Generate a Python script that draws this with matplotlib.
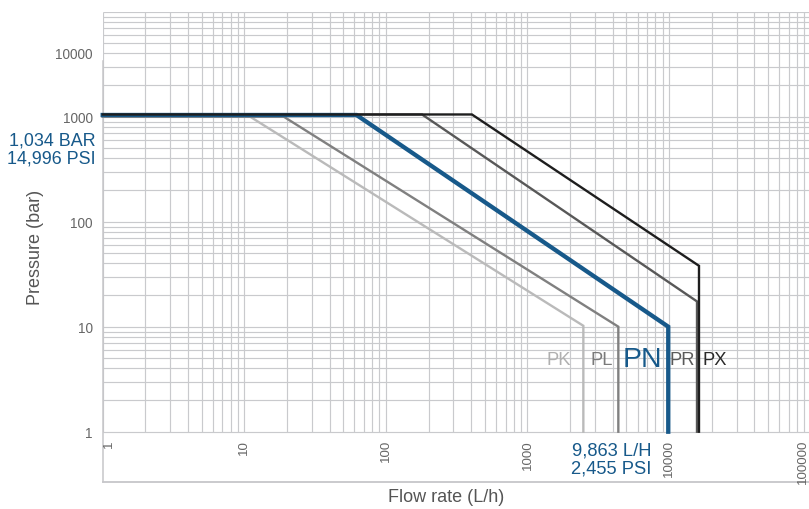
import numpy as np
import matplotlib
matplotlib.use("Agg")
import matplotlib.pyplot as plt

# ---------------- data ----------------
series_names = ["PK", "PL", "PR", "PN", "PX"]
series_flow = {
    "PK": [1, 11, 2480, 2480],
    "PL": [1, 19, 4380, 4380],
    "PR": [1, 180, 15740, 15740],
    "PN": [1, 62, 9863, 9863],
    "PX": [1, 405, 16260, 16260],
}
series_pressure = {
    "PK": [1000, 1000, 10.2, 1],
    "PL": [1000, 1000, 10, 1],
    "PR": [1050, 1050, 17.4, 1],
    "PN": [1038, 1038, 10, 1],
    "PX": [1050, 1050, 38, 1],
}
x_tick_values = [1, 10, 100, 1000, 10000, 100000]
x_tick_labels = ["1", "10", "100", "1000", "10000", "100000"]
y_tick_values = [1, 10, 100, 1000, 4130]
y_tick_labels = ["1", "10", "100", "1000", "10000"]

# ---------------- styles ----------------
colors = {"PK": "#bababa", "PL": "#808080", "PR": "#585858",
          "PN": "#17598a", "PX": "#1e1e1e"}
text_colors = {"PK": "#b0b0b0", "PL": "#7a7a7a", "PR": "#5a5a5a",
               "PN": "#17598a", "PX": "#2a2a2a"}
widths = {"PK": 1.7, "PL": 1.7, "PR": 1.7, "PN": 3.1, "PX": 1.7}
label_sizes = {"PK": 13.2, "PL": 13.2, "PR": 13.2, "PN": 20.5, "PX": 13.2}
label_offsets = {"PK": (-9, 0), "PL": (-4, 0), "PR": (-1.2, 0), "PN": (-4, 0), "PX": (2.5, 0)}
label_ha = {"PK": "right", "PL": "right", "PR": "right", "PN": "right", "PX": "left"}
label_y = 4.9

plt.rcParams['font.family'] = ['Liberation Sans', 'DejaVu Sans']

W, H = 809, 510
fig = plt.figure(figsize=(W / 100, H / 100), dpi=100)
left_px, right_px, top_px, bottom_px = 102.7, 809, 12.7, 483.3
ax = fig.add_axes([left_px / W, 1 - bottom_px / H,
                   (right_px - left_px) / W, (bottom_px - top_px) / H])
ax.set_xscale('log')
ax.set_yscale('log')
x_dec_px = 141.6
y_dec_px = 105.0
xmax = 10 ** ((right_px - left_px) / x_dec_px)
ymin = 10 ** (-(bottom_px - 432.7) / y_dec_px)
ax.set_xlim(1, xmax)
ax.set_ylim(ymin, 10000)

# grid (only in region 1..10000)
grid_c = "#c9cacd"
xg = [m * 10 ** d for d in range(0, 5) for m in range(1, 10)]
xg = [v for v in xg if v <= xmax]
yg = [m * 10 ** d for d in range(0, 4) for m in range(1, 10)] + [10000]
ax.vlines(xg, 1, 10000, colors=grid_c, lw=0.85, zorder=1)
ax.hlines(yg, 1, xmax, colors=grid_c, lw=0.85, zorder=1)

# spines
for s in ['top', 'right']:
    ax.spines[s].set_visible(False)
ax.spines['left'].set_color("#c6c6c9")
ax.spines['bottom'].set_color("#c6c6c9")
ax.spines['left'].set_linewidth(1.1)
ax.spines['bottom'].set_linewidth(1.3)
ax.spines['left'].set_bounds(ymin, 3400)

# curves
for name in series_names:
    ax.plot(series_flow[name], series_pressure[name], color=colors[name],
            lw=widths[name], solid_joinstyle='miter', zorder=3, clip_on=False)

# series labels
for name in series_names:
    xa = series_flow[name][-1]
    ax.annotate(name, (xa, label_y), xytext=label_offsets[name],
                textcoords='offset points', ha=label_ha[name], va='center',
                fontsize=label_sizes[name], color=text_colors[name], zorder=4)

# ticks
ax.set_xticks([])
ax.xaxis.set_minor_locator(matplotlib.ticker.NullLocator())
ax.set_yticks(y_tick_values)
ax.set_yticklabels(y_tick_labels)
ax.yaxis.set_minor_locator(matplotlib.ticker.NullLocator())
ax.tick_params(axis='y', length=0, pad=7, labelsize=9.8, labelcolor="#666666")

tick_fs = 9.6
for v, lab in zip(x_tick_values, x_tick_labels):
    if v == 1:
        ax.text(v, 0.85, lab, rotation=90, ha='left', va='top',
                fontsize=tick_fs, color="#666666")
    elif v > xmax:
        ax.text(xmax, 0.85, lab, rotation=90, ha='right', va='top',
                fontsize=tick_fs, color="#666666")
    else:
        ax.text(v, 0.85, lab, rotation=90, ha='center', va='top',
                fontsize=tick_fs, color="#666666")

# annotations
blue = colors["PN"]
ax.annotate("1,034 BAR\n14,996 PSI", (1, 1034), xytext=(-5, -24.5),
            textcoords='offset points', ha='right', va='center',
            fontsize=12.9, color=blue, linespacing=1.12, annotation_clip=False)
ax.annotate("9,863 L/H\n2,455 PSI", (9863, 1), xytext=(-12, -19.5),
            textcoords='offset points', ha='right', va='center',
            fontsize=13.2, color=blue, linespacing=1.07, annotation_clip=False)

fig.text(35 / W, 1 - 247 / H, "Pressure (bar)", rotation=90, ha='center', va='center',
         fontsize=13, color="#555555")
fig.text(446 / W, 1 - 498 / H, "Flow rate (L/h)", ha='center', va='center',
         fontsize=13, color="#555555")

fig.savefig("out.png", dpi=100)
